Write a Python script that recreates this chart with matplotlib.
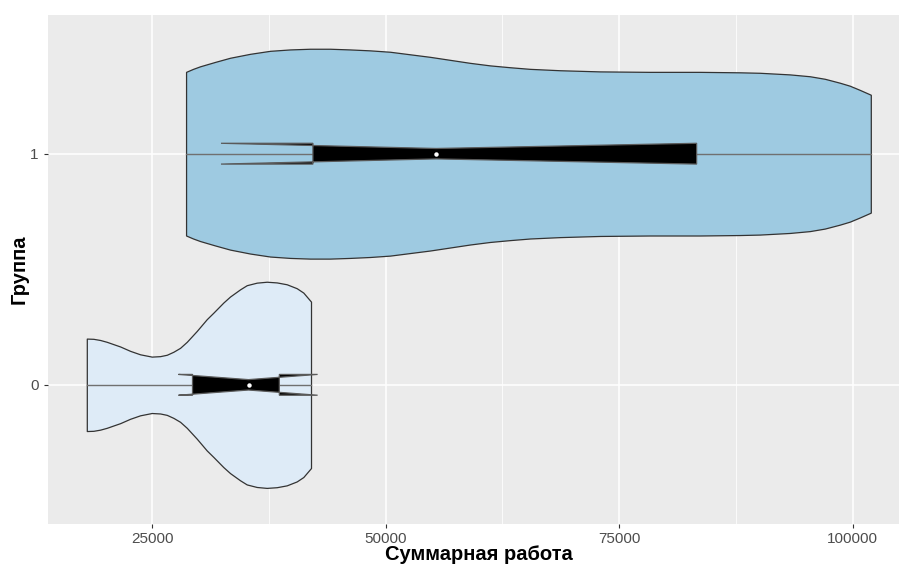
import matplotlib
matplotlib.use('Agg')
import matplotlib.pyplot as plt
from matplotlib.patches import Polygon

plt.rcParams['font.family'] = ['Liberation Sans', 'DejaVu Sans']

# ---- data ----
groups = [0, 1]
group_labels = ['0', '1']
fills = ['#DEEBF7', '#9ECAE1']

# violin outlines: position along x and half-width (in group units)
v0_x = [17976, 18682, 19400, 20117, 20824, 21541, 22612, 23683, 24936,
        25825, 26542, 27249, 27966, 28684, 29754, 30825, 31532, 32603,
        33320, 34391, 35108, 36179, 37250, 38321, 39391, 40462, 41169,
        41993]
v0_hw = [0.200, 0.199, 0.194, 0.186, 0.176, 0.166, 0.147, 0.132, 0.122,
         0.124, 0.130, 0.143, 0.160, 0.186, 0.233, 0.284, 0.312, 0.356,
         0.382, 0.413, 0.431, 0.442, 0.446, 0.443, 0.435, 0.418, 0.399,
         0.360]

v1_x = [28609, 29360, 30108, 31714, 33320, 35462, 37603, 39745, 41886,
        44028, 46169, 48311, 50453, 52594, 54736, 56877, 59019, 61160,
        63302, 65443, 68656, 72939, 78293, 83647, 87930, 90070, 93284,
        95426, 97033, 98639, 99710, 100780, 101958]
v1_hw = [0.354, 0.367, 0.378, 0.397, 0.415, 0.432, 0.445, 0.451, 0.454,
         0.454, 0.451, 0.447, 0.441, 0.430, 0.419, 0.406, 0.393, 0.382,
         0.374, 0.367, 0.361, 0.356, 0.354, 0.354, 0.352, 0.350, 0.343,
         0.335, 0.324, 0.307, 0.294, 0.276, 0.255]

# notched boxplot statistics per group
whisk_lo = [18000, 28600]
q1 = [29300, 42200]
median = [35300, 55400]
q3 = [38600, 83300]
whisk_hi = [42000, 101950]
notch_lo = [27800, 32350]
notch_hi = [42700, 83300]

x_ticks = [25000, 50000, 75000, 100000]
x_minor = [37500, 62500, 87500]
x_title = 'Суммарная работа'
y_title = 'Группа'

# ---- figure ----
W, H = 899, 566
fig = plt.figure(figsize=(W / 100, H / 100), dpi=100)
left_px, right_px, top_px, bot_px = 47.6, 910.0, 15.0, 523.5
ax = fig.add_axes([left_px / W, 1 - bot_px / H,
                   (right_px - left_px) / W, (bot_px - top_px) / H])
ax.set_facecolor('#EBEBEB')
for s in ax.spines.values():
    s.set_visible(False)

vx = [v0_x, v1_x]
vh = [v0_hw, v1_hw]
lo = min(min(v) for v in vx)
hi = max(max(v) for v in vx)
rng = hi - lo
ax.set_xlim(lo - 0.05 * rng, hi + 0.05 * rng)
ax.set_ylim(-0.6, 1.6)

ax.set_xticks(x_ticks)
ax.set_xticklabels([str(t) for t in x_ticks])
ax.set_xticks(x_minor, minor=True)
ax.set_yticks(groups)
ax.set_yticklabels(group_labels)
ax.set_axisbelow(True)
ax.grid(which='major', color='white', lw=1.1)
ax.grid(which='minor', axis='x', color='white', lw=0.55)
ax.tick_params(which='major', length=3, width=0.8, color='#333333',
               labelcolor='#4D4D4D', labelsize=11, pad=3.3)
ax.tick_params(which='minor', length=0)

box_half = 0.045
for g in groups:
    xs = vx[g]
    hw = vh[g]
    ax.fill_between(xs, [g - h for h in hw], [g + h for h in hw],
                    facecolor=fills[g], edgecolor='#333333', lw=0.9, zorder=2)
    # whiskers
    ax.plot([whisk_lo[g], q1[g]], [g, g], color='#707070', lw=1.0, zorder=3)
    ax.plot([q3[g], whisk_hi[g]], [g, g], color='#707070', lw=1.0, zorder=3)
    # notched box
    t, b = g + box_half, g - box_half
    ti, bi = g + box_half * 0.5, g - box_half * 0.5
    pts = [(q1[g], t), (notch_lo[g], t), (median[g], ti), (notch_hi[g], t),
           (q3[g], t), (q3[g], b), (notch_hi[g], b), (median[g], bi),
           (notch_lo[g], b), (q1[g], b)]
    ax.add_patch(Polygon(pts, closed=True, facecolor='black',
                         edgecolor='#5a5a5a', lw=0.9, zorder=4))
    ax.plot([median[g]], [g], 'o', color='white', ms=3.2, mec='none', zorder=5)

fig.text((left_px + right_px) / 2 / W, (H - 560) / H, x_title,
         fontsize=14.5, fontweight='bold', color='black',
         ha='center', va='baseline')
ax.set_ylabel(y_title, fontsize=14.5, fontweight='bold', color='black', labelpad=1)

fig.savefig('out.png', dpi=100)
